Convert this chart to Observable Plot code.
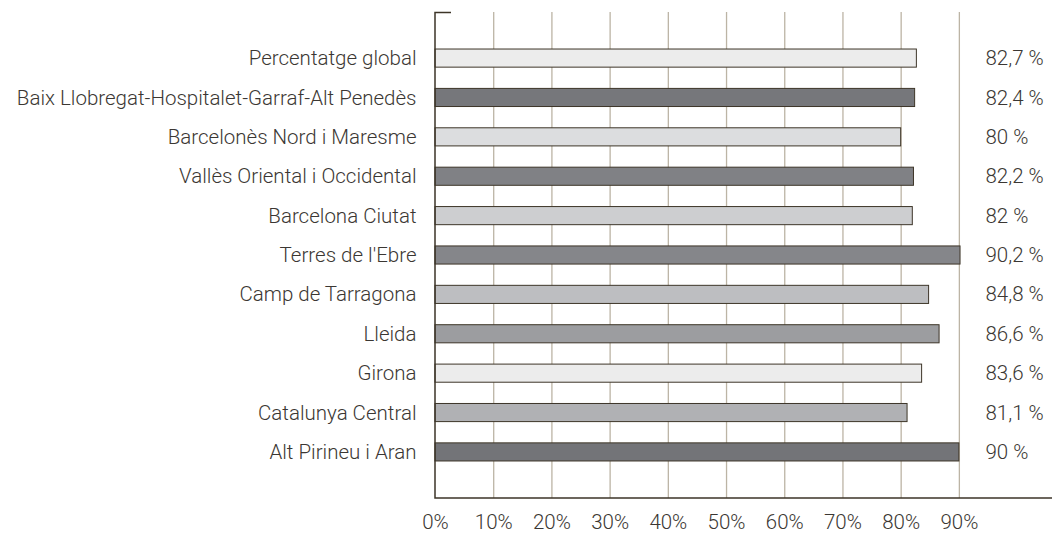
<!DOCTYPE html>
<html>
<head>
<meta charset="utf-8">
<script src="https://cdn.jsdelivr.net/npm/d3@7"></script>
<script src="https://cdn.jsdelivr.net/npm/@observablehq/plot@0.6"></script>
<style>
  html, body { margin: 0; padding: 0; background: #fff; }
  #chart svg { display: block; }
</style>
</head>
<body>
<div id="chart"></div>
<script>
const categories = [
  "Percentatge global",
  "Baix Llobregat-Hospitalet-Garraf-Alt Penedès",
  "Barcelonès Nord i Maresme",
  "Vallès Oriental i Occidental",
  "Barcelona Ciutat",
  "Terres de l'Ebre",
  "Camp de Tarragona",
  "Lleida",
  "Girona",
  "Catalunya Central",
  "Alt Pirineu i Aran"
];
const values = [82.7, 82.4, 80, 82.2, 82, 90.2, 84.8, 86.6, 83.6, 81.1, 90];
const barColors = ["#ececec", "#76777b", "#dcdddf", "#808185", "#cdced0", "#85868a", "#bdbec1", "#9c9da0", "#ececec", "#b0b1b4", "#737478"];
const tickValues = [0, 10, 20, 30, 40, 50, 60, 70, 80, 90];

const data = categories.map((c, i) => ({cat: c, value: values[i], color: barColors[i]}));
const fmt = v => String(v).replace(".", ",") + " %";

const ink = "#3d3528";
const textColor = "#3b3733";

const lines = (index, scales, channels, dims) => {
  const x0 = scales.x(0);
  const top = dims.marginTop;
  const bottom = dims.height - dims.marginBottom;
  const right = dims.width - dims.marginRight;
  const g = d3.create("svg:g");
  g.append("path")
    .attr("d", `M${x0 + 16},${top + 0.5}H${x0}V${bottom}H${right}`)
    .attr("fill", "none")
    .attr("stroke", ink)
    .attr("stroke-width", 1.5);
  return g.node();
};

const chart = Plot.plot({
  width: 1061,
  height: 534,
  marginLeft: 435,
  marginRight: 9,
  marginTop: 12,
  marginBottom: 36,
  style: {fontFamily: "Roboto, 'Liberation Sans', sans-serif", fontSize: "20.5px", fontWeight: 300, color: textColor, background: "#fff"},
  x: {domain: [0, 106]},
  y: {domain: categories, paddingInner: 0.54, paddingOuter: 0.94, round: false},
  color: {type: "identity"},
  marks: [
    Plot.ruleX(tickValues.filter(d => d > 0), {stroke: "#bcb4a5", strokeWidth: 1.3}),
    Plot.barX(data, {x: "value", y: "cat", fill: "color", stroke: ink, strokeWidth: 1}),
    lines,
    Plot.axisX({ticks: tickValues, tickFormat: d => d + "%", tickSize: 0, tickPadding: 16, label: null, fill: textColor, fontSize: 20.5, style: "letter-spacing:0.6px"}),
    Plot.axisY({tickSize: 0, tickPadding: 19, label: null, fill: textColor, fontSize: 20.5}),
    Plot.text(data, {y: "cat", text: d => fmt(d.value), frameAnchor: "right", textAnchor: "start", dx: -67, fill: textColor, fontSize: 20.5, style: "letter-spacing:0.6px"})
  ]
});
document.getElementById("chart").appendChild(chart);
</script>
</body>
</html>
